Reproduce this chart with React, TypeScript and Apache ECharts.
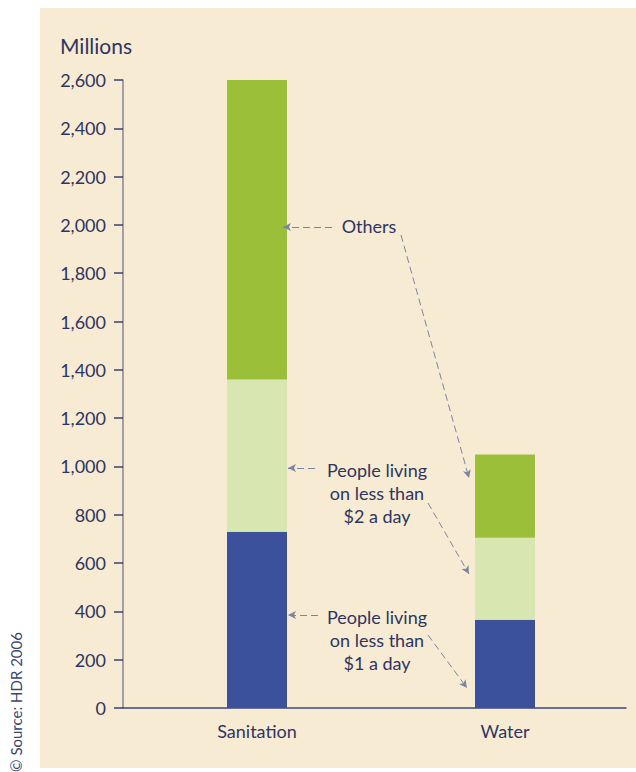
import React, { useEffect, useRef } from 'react';
import * as echarts from 'echarts';

const categories = ['Sanitation', 'Water'];
const lessThan1 = [730, 365];
const lessThan2 = [630, 340];
const others = [1240, 345];
const yMin = 0;
const yMax = 2600;
const yInterval = 200;

const TEXT = '#2d3561';
const FONT = 'Lato';

type Arrow = [number, number, number, number];
const arrows: Arrow[] = [
  [332, 227, 283, 227],
  [401, 235, 469, 478],
  [315, 468, 288, 468],
  [428, 503, 469, 574],
  [318, 615, 288, 615],
  [428, 635, 467, 688],
];

const notes = [
  { text: 'Others', x: 369, y: 226 },
  { text: 'People living\non less than\n$2 a day', x: 377, y: 493 },
  { text: 'People living\non less than\n$1 a day', x: 377, y: 640 },
];

export default function App() {
  const ref = useRef<HTMLDivElement>(null);
  useEffect(() => {
    if (!ref.current) return;
    const chart = echarts.init(ref.current, undefined, { renderer: 'svg' });
    const barBase = {
      type: 'bar' as const,
      stack: 'total',
      xAxisIndex: 1,
      yAxisIndex: 1,
      barWidth: 60,
      emphasis: { disabled: true },
    };
    chart.setOption({
      animation: false,
      textStyle: { fontFamily: FONT },
      grid: [
        { left: 123, right: 10, top: 80, bottom: 64 },
        { left: 133, right: 7, top: 80, bottom: 64 },
      ],
      xAxis: [
        {
          gridIndex: 0,
          type: 'category',
          data: categories,
          axisLine: { show: true, lineStyle: { color: '#3d4a7c', width: 1.5 } },
          axisTick: { show: false },
          axisLabel: { show: false },
        },
        {
          gridIndex: 1,
          type: 'category',
          data: categories,
          axisLine: { show: false },
          axisTick: { show: false },
          axisLabel: { color: TEXT, fontSize: 18, fontFamily: FONT, margin: 14 },
        },
      ],
      yAxis: [
        {
          gridIndex: 0,
          type: 'value',
          min: yMin,
          max: yMax,
          interval: yInterval,
          axisLine: { show: true, lineStyle: { color: '#85879d', width: 1.5 } },
          axisTick: { show: true, length: 9, lineStyle: { color: '#39426b', width: 1.5 } },
          axisLabel: { color: TEXT, fontSize: 18, fontFamily: FONT, margin: 17 },
          splitLine: { show: false },
        },
        {
          gridIndex: 1,
          type: 'value',
          min: yMin,
          max: yMax,
          interval: yInterval,
          show: false,
          splitLine: { show: false },
        },
      ],
      series: [
        { ...barBase, name: 'Less than $1 a day', data: lessThan1, itemStyle: { color: '#3b519b' } },
        { ...barBase, name: 'Less than $2 a day', data: lessThan2, itemStyle: { color: '#d8e6b2' } },
        {
          ...barBase,
          name: 'Others',
          data: others,
          itemStyle: { color: '#9cbf3a' },
          markLine: {
            silent: true,
            symbol: ['none', 'arrow'],
            symbolSize: [6, 8],
            label: { show: false },
            emphasis: { disabled: true },
            lineStyle: { color: '#7d84a3', type: [7, 4], width: 1 },
            data: arrows.map(([x1, y1, x2, y2]) => [
              { x: x1, y: y1 },
              { x: x2, y: y2 },
            ]),
          },
        },
      ],
      graphic: [
        {
          type: 'rect',
          z: -10,
          shape: { x: 40, y: 8, width: 596, height: 760 },
          style: { fill: '#f8ebd3' },
          silent: true,
        },
        {
          type: 'text',
          x: 60,
          y: 45,
          style: {
            text: 'Millions',
            fill: TEXT,
            font: `21px ${FONT}`,
            align: 'left',
            verticalAlign: 'middle',
          },
        },
        {
          type: 'text',
          x: 16,
          y: 702,
          rotation: Math.PI / 2,
          style: {
            text: '© Source: HDR 2006',
            fill: '#3b4570',
            font: `15px ${FONT}`,
            align: 'center',
            verticalAlign: 'middle',
          },
        },
        ...notes.map((n) => ({
          type: 'text',
          x: n.x,
          y: n.y,
          style: {
            text: n.text,
            fill: TEXT,
            font: `18px ${FONT}`,
            lineHeight: 23,
            align: 'center',
            verticalAlign: 'middle',
          },
        })),
      ],
    });
    return () => chart.dispose();
  }, []);
  return (
    <div
      ref={ref}
      style={{ position: 'absolute', left: 0, top: 0, width: 636, height: 772, background: '#ffffff' }}
    />
  );
}
